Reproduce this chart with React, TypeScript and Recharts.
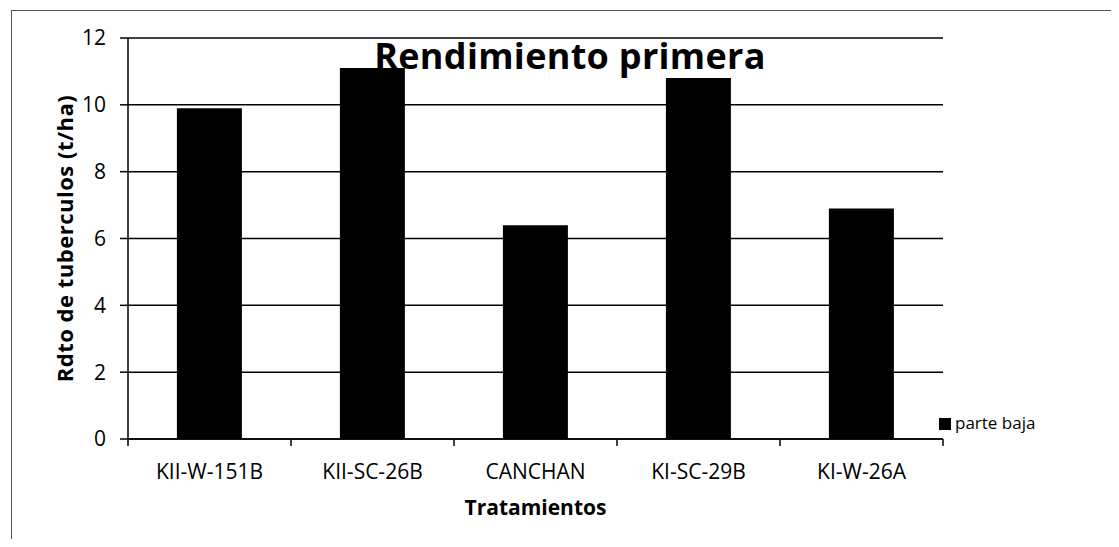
import React from 'react';
import { BarChart, Bar, XAxis, YAxis, CartesianGrid, Legend } from 'recharts';

const categories = ['KII-W-151B', 'KII-SC-26B', 'CANCHAN', 'KI-SC-29B', 'KI-W-26A'];
const parteBaja = [9.9, 11.1, 6.4, 10.8, 6.9];
const yTicks = [0, 2, 4, 6, 8, 10, 12];

const data = categories.map((c, i) => ({ name: c, baja: parteBaja[i] }));

const FONT = '"Open Sans", Lato, sans-serif';
const X_TICK_MARGIN = 24;

function CategoryTick(props: any) {
  const { x, y, payload, index, visibleTicksCount } = props;
  const half = payload && payload.offset ? payload.offset : 0;
  const axisY = y - X_TICK_MARGIN;
  const isLast = index === visibleTicksCount - 1;
  return (
    <g>
      <line x1={x - half} x2={x - half} y1={axisY} y2={axisY + 7} stroke="#000" strokeWidth={1.5} />
      {isLast && (
        <line x1={x + half} x2={x + half} y1={axisY} y2={axisY + 7} stroke="#000" strokeWidth={1.5} />
      )}
      <text x={x} y={y} dy={16} textAnchor="middle" fill="#000" fontSize={21} fontFamily={FONT}>
        {payload.value}
      </text>
    </g>
  );
}

export default function App() {
  return (
    <div style={{ position: 'relative', width: 1103, height: 531, fontFamily: FONT }}>
      <div
        style={{
          position: 'absolute',
          left: 3,
          top: 2,
          width: 1100,
          height: 529,
          borderLeft: '1.5px solid #555',
          borderTop: '1.5px solid #555',
        }}
      />
      <BarChart
        width={1103}
        height={531}
        data={data}
        margin={{ top: 30, right: 8, left: 40, bottom: 60 }}
        barCategoryGap="30%"
      >
        <CartesianGrid horizontal vertical={false} stroke="#000" strokeWidth={1.5} />
        <XAxis
          dataKey="name"
          tickLine={false}
          tickSize={0}
          axisLine={{ stroke: '#000', strokeWidth: 1.5 }}
          tick={<CategoryTick />}
          tickMargin={X_TICK_MARGIN}
          interval={0}
          height={40}
          label={{
            value: 'Tratamientos',
            position: 'insideBottom',
            offset: -36,
            fontSize: 21,
            fontWeight: 700,
            fill: '#000',
            fontFamily: FONT,
          }}
        />
        <YAxis
          domain={[0, 12]}
          ticks={yTicks}
          width={80}
          tickSize={8}
          tickMargin={14}
          tickLine={{ stroke: '#000', strokeWidth: 1.5 }}
          axisLine={{ stroke: '#000', strokeWidth: 1.5 }}
          tick={{ fill: '#000', fontSize: 21, fontFamily: FONT }}
          label={{
            value: 'Rdto de tuberculos (t/ha)',
            angle: -90,
            position: 'insideLeft',
            offset: 17,
            fontSize: 22,
            fontWeight: 700,
            fill: '#000',
            fontFamily: FONT,
            letterSpacing: 0.5,
            style: { textAnchor: 'middle' },
          }}
        />
        <Legend
          layout="vertical"
          align="right"
          verticalAlign="top"
          iconType="square"
          iconSize={12}
          wrapperStyle={{ left: 931, top: 403, width: 160, fontSize: 17, fontFamily: FONT }}
          formatter={(v) => <span style={{ color: '#000' }}>{v}</span>}
        />
        <Bar dataKey="baja" name="parte baja" fill="#000" isAnimationActive={false} />
      </BarChart>
      <div
        style={{
          position: 'absolute',
          left: 332,
          top: 28,
          width: 460,
          textAlign: 'center',
          fontSize: 36,
          fontWeight: 700,
          fontFamily: FONT,
          color: '#000',
          lineHeight: '40px',
          letterSpacing: 0.3,
          pointerEvents: 'none',
        }}
      >
        Rendimiento primera
      </div>
    </div>
  );
}
